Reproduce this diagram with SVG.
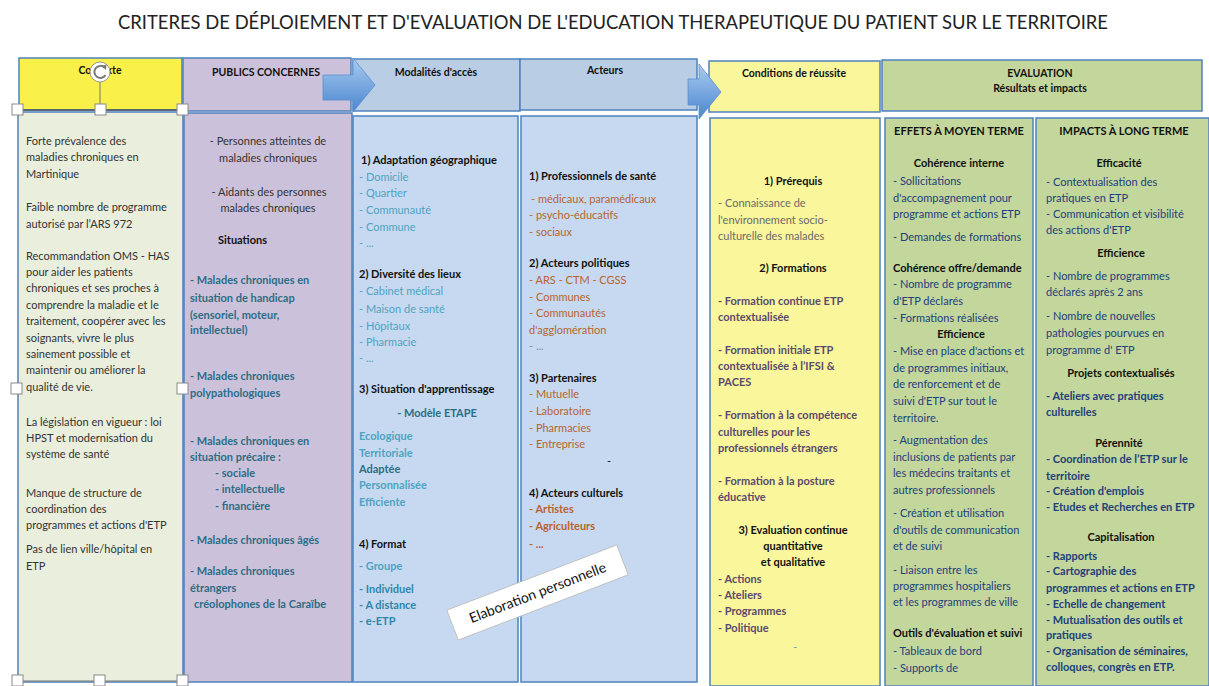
<svg xmlns="http://www.w3.org/2000/svg" width="1209" height="686" viewBox="0 0 1209 686">
<defs>
<style>
.t{font-family:Lato,"Liberation Sans",sans-serif;font-size:11px;fill:#333}
.b{font-weight:bold}
.c{text-anchor:middle}
.k{fill:#111}
.tl{fill:#2C6D85}
.lb{fill:#4FA3C2}
.md{fill:#2E86A8}
.br{fill:#B8642F}
.pu{fill:#5B4A6C}
.gr{fill:#6A6A6A}
.nv{fill:#22407C}
.box{stroke:#4F81BD;stroke-width:1.5}
.hd{font-family:Lato,"Liberation Sans",sans-serif;font-size:10.5px;font-weight:bold;fill:#111;text-anchor:middle}
.hdl{fill:#fff;stroke:#8a8a8a;stroke-width:1}
</style>
<linearGradient id="ag" x1="0" y1="0" x2="0" y2="1">
<stop offset="0" stop-color="#A9CBEF"/>
<stop offset="1" stop-color="#4A86D0"/>
</linearGradient>
</defs>
<rect width="1209" height="686" fill="#fff"/>
<text x="613" y="29" font-family="Lato,'Liberation Sans',sans-serif" font-size="19" fill="#222" text-anchor="middle" textLength="990" lengthAdjust="spacingAndGlyphs">CRITERES DE DÉPLOIEMENT ET D'EVALUATION DE L'EDUCATION THERAPEUTIQUE DU PATIENT SUR LE TERRITOIRE</text>

<g id="h-contexte">
<rect class="box" x="19" y="58" width="163" height="52" fill="#F9F14A"/>
<text class="hd" x="100" y="74">Contexte</text>
</g>
<g id="h-publics">
<rect class="box" x="183" y="58" width="168" height="53" fill="#CCC1DA"/>
<text class="hd" x="266" y="76">PUBLICS CONCERNES</text>
</g>
<g id="h-modalites">
<rect class="box" x="353" y="59" width="167" height="52" fill="#B9CDE5"/>
<text class="hd" x="436" y="76">Modalités d'accès</text>
</g>
<g id="h-acteurs">
<rect class="box" x="520" y="59" width="177" height="51" fill="#B9CDE5"/>
<text class="hd" x="605" y="74">Acteurs</text>
</g>
<g id="h-conditions">
<rect class="box" x="709" y="61" width="171" height="51" fill="#FAF69C"/>
<text class="hd" x="794" y="77">Conditions de réussite</text>
</g>
<g id="h-evaluation">
<rect class="box" x="882" y="60" width="320" height="51" fill="#C3D69B"/>
<text class="hd" x="1040" y="77">EVALUATION</text>
<text class="hd" x="1040" y="92">Résultats et impacts</text>
</g>

<g id="contexte">
<rect class="box" x="18" y="112" width="165" height="570" fill="#E9EEDD"/>
<text class="t" x="26" y="145">Forte prévalence des</text>
<text class="t" x="26" y="161">maladies chroniques en</text>
<text class="t" x="26" y="178">Martinique</text>
<text class="t" x="26" y="211">Faible nombre de programme</text>
<text class="t" x="26" y="228">autorisé par l’ARS 972</text>
<text class="t" x="26" y="260">Recommandation OMS - HAS</text>
<text class="t" x="26" y="276">pour aider les patients</text>
<text class="t" x="26" y="292">chroniques et ses proches à</text>
<text class="t" x="26" y="309">comprendre la maladie et le</text>
<text class="t" x="26" y="325">traitement, coopérer avec les</text>
<text class="t" x="26" y="342">soignants, vivre le plus</text>
<text class="t" x="26" y="358">sainement possible et</text>
<text class="t" x="26" y="374">maintenir ou améliorer la</text>
<text class="t" x="26" y="391">qualité de vie.</text>
<text class="t" x="26" y="426">La législation en vigueur : loi</text>
<text class="t" x="26" y="442">HPST et modernisation du</text>
<text class="t" x="26" y="458">système de santé</text>
<text class="t" x="26" y="497">Manque de structure de</text>
<text class="t" x="26" y="513">coordination des</text>
<text class="t" x="26" y="529">programmes et actions d'ETP</text>
<text class="t" x="26" y="553">Pas de lien ville/hôpital en</text>
<text class="t" x="26" y="570">ETP</text>
</g>

<g id="publics">
<rect class="box" x="184" y="113" width="168" height="569" fill="#CCC1DA"/>
<text class="t c" x="268" y="145">- Personnes atteintes de</text>
<text class="t c" x="268" y="162">maladies chroniques</text>
<text class="t c" x="269" y="196">- Aidants des personnes</text>
<text class="t c" x="268" y="212">malades chroniques</text>
<text class="t b k" x="218" y="244">Situations</text>
<text class="t b tl" x="190" y="284">- Malades chroniques en</text>
<text class="t b tl" x="190" y="302">situation de handicap</text>
<text class="t b tl" x="190" y="319">(sensoriel, moteur,</text>
<text class="t b tl" x="190" y="334">intellectuel)</text>
<text class="t b tl" x="190" y="380">- Malades chroniques</text>
<text class="t b tl" x="190" y="397">polypathologiques</text>
<text class="t b tl" x="190" y="445">- Malades chroniques en</text>
<text class="t b tl" x="190" y="461">situation précaire :</text>
<text class="t b tl" x="215" y="477">- sociale</text>
<text class="t b tl" x="215" y="493">- intellectuelle</text>
<text class="t b tl" x="215" y="510">- financière</text>
<text class="t b tl" x="190" y="544">- Malades chroniques âgés</text>
<text class="t b tl" x="190" y="575">- Malades chroniques</text>
<text class="t b tl" x="190" y="592">étrangers</text>
<text class="t b tl" x="194" y="608">créolophones de la Caraïbe</text>
</g>

<g id="modalites">
<rect class="box" x="353" y="116" width="165" height="566" fill="#C6D9F0"/>
<text class="t b k" x="361" y="164">1) Adaptation géographique</text>
<text class="t lb" x="359" y="181">- Domicile</text>
<text class="t lb" x="359" y="197">- Quartier</text>
<text class="t lb" x="359" y="214">- Communauté</text>
<text class="t lb" x="359" y="231">- Commune</text>
<text class="t lb" x="359" y="247">- ...</text>
<text class="t b k" x="359" y="278">2) Diversité des lieux</text>
<text class="t lb" x="359" y="295">- Cabinet médical</text>
<text class="t lb" x="359" y="313">- Maison de santé</text>
<text class="t lb" x="359" y="330">- Hôpitaux</text>
<text class="t lb" x="359" y="346">- Pharmacie</text>
<text class="t lb" x="359" y="362">- ...</text>
<text class="t b k" x="359" y="393">3) Situation d'apprentissage</text>
<text class="t b tl c" x="437" y="417">- Modèle ETAPE</text>
<text class="t b lb" x="359" y="440">Ecologique</text>
<text class="t b lb" x="359" y="457">Territoriale</text>
<text class="t b tl" x="359" y="473">Adaptée</text>
<text class="t b lb" x="359" y="489">Personnalisée</text>
<text class="t b lb" x="359" y="506">Efficiente</text>
<text class="t b k" x="359" y="548">4) Format</text>
<text class="t b lb" x="359" y="570">- Groupe</text>
<text class="t b md" x="359" y="593">- Individuel</text>
<text class="t b md" x="359" y="609">- A distance</text>
<text class="t b md" x="359" y="625">- e-ETP</text>
</g>

<g id="acteurs">
<rect class="box" x="521" y="116" width="176" height="566" fill="#C6D9F0"/>
<text class="t b k" x="529" y="180">1) Professionnels de santé</text>
<text class="t br" x="531" y="203">-  médicaux, paramédicaux</text>
<text class="t br" x="529" y="219">- psycho-éducatifs</text>
<text class="t br" x="529" y="236">- sociaux</text>
<text class="t b k" x="529" y="267">2) Acteurs politiques</text>
<text class="t br" x="529" y="284">- ARS - CTM -  CGSS</text>
<text class="t br" x="529" y="301">- Communes</text>
<text class="t br" x="529" y="317">- Communautés</text>
<text class="t br" x="529" y="334">d'agglomération</text>
<text class="t" x="529" y="350" fill="#6F8FAE" style="fill:#6F8FAE">- ...</text>
<text class="t b k" x="529" y="382">3) Partenaires</text>
<text class="t br" x="529" y="398">- Mutuelle</text>
<text class="t br" x="529" y="415">- Laboratoire</text>
<text class="t br" x="529" y="432">- Pharmacies</text>
<text class="t br" x="529" y="448">- Entreprise</text>
<text class="t k" x="607" y="465">-</text>
<text class="t b k" x="529" y="497">4) Acteurs culturels</text>
<text class="t b br" x="529" y="513">- Artistes</text>
<text class="t b br" x="529" y="530">- Agriculteurs</text>
<text class="t b br" x="529" y="548">- ...</text>
</g>

<g id="conditions">
<rect class="box" x="710" y="118" width="170" height="568" fill="#FAF69C"/>
<text class="t b k c" x="793" y="185">1) Prérequis</text>
<text class="t gr" x="718" y="207">- Connaissance de</text>
<text class="t gr" x="718" y="224">l'environnement socio-</text>
<text class="t gr" x="718" y="240">culturelle des malades</text>
<text class="t b k c" x="793" y="272">2) Formations</text>
<text class="t b pu" x="718" y="305">- Formation continue  ETP</text>
<text class="t b pu" x="718" y="321">contextualisée</text>
<text class="t b pu" x="718" y="354">- Formation initiale ETP</text>
<text class="t b pu" x="718" y="370">contextualisée à  l’IFSI &amp;</text>
<text class="t b pu" x="718" y="386">PACES</text>
<text class="t b pu" x="718" y="419">- Formation à la compétence</text>
<text class="t b pu" x="718" y="436">culturelles pour les</text>
<text class="t b pu" x="718" y="452">professionnels étrangers</text>
<text class="t b pu" x="718" y="485">- Formation à la posture</text>
<text class="t b pu" x="718" y="501">éducative</text>
<text class="t b k c" x="793" y="534">3) Evaluation continue</text>
<text class="t b k c" x="793" y="550">quantitative</text>
<text class="t b k c" x="793" y="566">et qualitative</text>
<text class="t b pu" x="718" y="583">- Actions</text>
<text class="t b pu" x="718" y="599">- Ateliers</text>
<text class="t b pu" x="718" y="615">- Programmes</text>
<text class="t b pu" x="718" y="632">- Politique</text>
<text class="t lb" x="793" y="651">-</text>
</g>

<g id="effets">
<rect class="box" x="885" y="118" width="148" height="568" fill="#C3D69B"/>
<text class="t b k c" x="959" y="135">EFFETS À MOYEN TERME</text>
<text class="t b k c" x="959" y="167">Cohérence interne</text>
<text class="t nv" x="893" y="185">- Sollicitations</text>
<text class="t nv" x="893" y="202">d'accompagnement pour</text>
<text class="t nv" x="893" y="218">programme et actions ETP</text>
<text class="t nv" x="893" y="241">- Demandes de formations</text>
<text class="t b k" x="893" y="272">Cohérence offre/demande</text>
<text class="t nv" x="893" y="288">- Nombre de programme</text>
<text class="t nv" x="893" y="305">d'ETP déclarés</text>
<text class="t nv" x="893" y="322">- Formations réalisées</text>
<text class="t b k c" x="961" y="338">Efficience</text>
<text class="t nv" x="893" y="355">- Mise en place d'actions et</text>
<text class="t nv" x="893" y="372">de programmes initiaux,</text>
<text class="t nv" x="893" y="388">de renforcement et de</text>
<text class="t nv" x="893" y="405">suivi d'ETP sur tout le</text>
<text class="t nv" x="893" y="422">territoire.</text>
<text class="t nv" x="893" y="444">- Augmentation des</text>
<text class="t nv" x="893" y="461">inclusions de patients par</text>
<text class="t nv" x="893" y="477">les médecins traitants et</text>
<text class="t nv" x="893" y="494">autres professionnels</text>
<text class="t nv" x="893" y="517">- Création et utilisation</text>
<text class="t nv" x="893" y="534">d'outils de communication</text>
<text class="t nv" x="893" y="550">et de suivi</text>
<text class="t nv" x="893" y="574">- Liaison entre les</text>
<text class="t nv" x="893" y="590">programmes hospitaliers</text>
<text class="t nv" x="893" y="606">et les programmes de ville</text>
<text class="t b k" x="893" y="637">Outils d'évaluation et suivi</text>
<text class="t nv" x="893" y="655">- Tableaux de bord</text>
<text class="t nv" x="893" y="672">- Supports de</text>
</g>

<g id="impacts">
<rect class="box" x="1036" y="118" width="173" height="568" fill="#C3D69B"/>
<text class="t b k c" x="1124" y="135">IMPACTS À LONG TERME</text>
<text class="t b k c" x="1119" y="167">Efficacité</text>
<text class="t nv" x="1046" y="186">- Contextualisation  des</text>
<text class="t nv" x="1046" y="202">pratiques en ETP</text>
<text class="t nv" x="1046" y="218">- Communication et visibilité</text>
<text class="t nv" x="1046" y="234">des actions d'ETP</text>
<text class="t b k c" x="1121" y="257">Efficience</text>
<text class="t nv" x="1046" y="280">- Nombre de programmes</text>
<text class="t nv" x="1046" y="296">déclarés  après 2 ans</text>
<text class="t nv" x="1046" y="320">- Nombre de nouvelles</text>
<text class="t nv" x="1046" y="337">pathologies pourvues en</text>
<text class="t nv" x="1046" y="354">programme d' ETP</text>
<text class="t b k c" x="1121" y="377">Projets contextualisés</text>
<text class="t b nv" x="1046" y="400">- Ateliers avec pratiques</text>
<text class="t b nv" x="1046" y="416">culturelles</text>
<text class="t b k c" x="1119" y="447">Pérennité</text>
<text class="t b nv" x="1046" y="463">- Coordination de l’ETP sur le</text>
<text class="t b nv" x="1046" y="480">territoire</text>
<text class="t b nv" x="1046" y="495">- Création d'emplois</text>
<text class="t b nv" x="1046" y="511">- Etudes et Recherches  en ETP</text>
<text class="t b k c" x="1121" y="541">Capitalisation</text>
<text class="t b nv" x="1046" y="560">- Rapports</text>
<text class="t b nv" x="1046" y="575">- Cartographie des</text>
<text class="t b nv" x="1046" y="592">programmes et actions en ETP</text>
<text class="t b nv" x="1046" y="608">- Echelle de changement</text>
<text class="t b nv" x="1046" y="624">- Mutualisation des outils et</text>
<text class="t b nv" x="1046" y="639">pratiques</text>
<text class="t b nv" x="1046" y="655">- Organisation de séminaires,</text>
<text class="t b nv" x="1046" y="671">colloques, congrès en ETP.</text>
</g>

<g id="connectors">
<path d="M323 75 H353 V58 L375 85 L353 112 V100 H323 Z" fill="url(#ag)" stroke="#5B8FD0" stroke-width="0.8"/>
<path d="M688 79 H699 V64 L721 92 L699 119 V105 H688 Z" fill="url(#ag)" stroke="#5B8FD0" stroke-width="0.8"/>
</g>

<g id="selection">
<line x1="17" y1="110" x2="183" y2="110" stroke="#555" stroke-width="1.5"/>
<line x1="17" y1="681" x2="183" y2="681" stroke="#777" stroke-width="1"/>
<line x1="100" y1="82" x2="100" y2="104" stroke="#777" stroke-width="1"/>
<circle cx="100" cy="72" r="10" fill="#fff" stroke="#999" stroke-width="1"/>
<path d="M104.5 67.5 A6 6 0 1 0 105.5 75" fill="none" stroke="#777" stroke-width="2"/>
<path d="M101.5 66 L106.5 64.5 L106 70 Z" fill="#777"/>
<rect class="hdl" x="12" y="104" width="11" height="11"/>
<rect class="hdl" x="95" y="104" width="11" height="11"/>
<rect class="hdl" x="177" y="104" width="11" height="11"/>
<rect class="hdl" x="11" y="383" width="11" height="11"/>
<rect class="hdl" x="177" y="383" width="11" height="11"/>
<rect class="hdl" x="12" y="675" width="11" height="11"/>
<rect class="hdl" x="94" y="675" width="11" height="11"/>
<rect class="hdl" x="177" y="675" width="11" height="11"/>
</g>

<g id="elaboration" transform="translate(537.5,592.5) rotate(-21)">
<rect x="-91" y="-16" width="182" height="32" fill="#fff" stroke="#bbb" stroke-width="0.8"/>
<text x="0" y="5" font-family="Lato,'Liberation Sans',sans-serif" font-size="14" fill="#111" text-anchor="middle">Elaboration personnelle</text>
</g>
</svg>
